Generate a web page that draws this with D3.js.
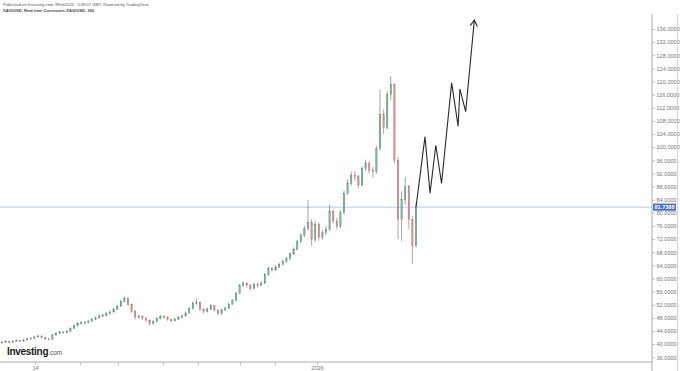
<!DOCTYPE html>
<html><head><meta charset="utf-8">
<script src="https://cdn.jsdelivr.net/npm/d3@7"></script>
<style>
html,body{margin:0;padding:0;background:#fff;}
svg{display:block;font-family:"Liberation Sans",Arial,sans-serif;}
</style></head>
<body>
<svg id="chart" width="680" height="371"></svg>
<script>
// ---- data ----
const firstOpen = 40.4;
const closes = [40.6,40.8,40.5,40.9,41.1,40.9,41.3,41.6,41.8,42.2,
42.5,42.0,41.6,41.5,42.8,43.3,43.7,43.5,43.9,44.8,
45.6,46.3,46.6,46.5,47.0,47.6,48.0,48.6,48.8,49.3,
49.8,50.6,51.6,53.0,54.0,52.0,50.0,48.3,48.4,47.9,
47.3,46.2,46.9,47.8,48.5,48.2,47.5,47.1,47.6,48.1,
48.6,49.5,50.8,52.5,52.8,50.6,49.9,50.7,51.7,50.4,
49.3,50.4,51.0,52.2,53.2,55.5,57.8,58.5,58.0,56.9,
58.2,58.0,58.6,61.2,63.0,62.6,63.5,64.3,65.2,66.0,
67.5,68.9,71.2,73.0,75.2,77.0,72.0,76.5,72.5,74.0,
75.0,80.5,77.5,75.8,80.0,86.0,89.0,91.5,91.0,88.5,
93.5,95.0,93.0,92.5,99.5,110.0,106.0,116.0,119.0,96.0,
78.0,84.0,88.0,78.0,70.0,81.7388];
const highs = [40.9,41.1,41.0,41.2,41.4,41.3,41.6,41.9,42.1,42.5,
42.9,42.7,42.2,41.9,43.1,43.6,44.1,44.0,44.3,45.1,
45.9,46.7,47.0,47.0,47.4,48.0,48.4,49.0,49.3,49.7,
50.3,51.0,52.0,53.5,54.5,54.2,52.4,50.4,49.0,48.8,
48.2,47.6,47.3,48.2,48.9,48.9,48.4,47.8,48.0,48.5,
49.0,49.9,51.2,53.0,54.0,53.0,51.0,51.2,52.2,51.9,
50.6,50.8,51.5,52.6,53.7,56.0,58.3,59.2,58.9,58.3,
58.7,58.6,59.1,61.7,63.6,63.5,64.0,64.8,65.8,66.6,
68.1,69.5,71.8,73.8,76.0,83.9,78.0,77.5,77.2,74.8,
76.0,82.5,81.0,78.5,80.8,86.8,90.2,92.6,92.8,91.6,
94.2,96.2,95.8,94.0,100.5,117.5,111.5,117.0,121.6,119.5,
97.0,86.5,91.0,88.5,79.0,83.0];
const lows = [40.2,40.4,40.2,40.3,40.7,40.6,40.8,41.1,41.4,41.6,
42.0,41.7,41.3,41.1,41.4,42.6,43.1,43.1,43.3,43.8,
44.6,45.4,46.0,46.0,46.3,46.8,47.3,47.8,48.2,48.5,
49.0,49.6,50.4,51.4,52.7,51.6,49.6,47.6,47.8,47.4,
46.9,45.7,45.9,46.6,47.5,47.7,47.1,46.6,46.9,47.3,
47.8,48.4,49.3,50.6,52.0,50.1,49.3,49.6,50.5,49.9,
48.8,49.0,50.1,50.8,52.0,53.0,55.3,57.4,57.2,56.4,
56.7,57.3,57.7,58.4,60.9,61.8,62.3,63.2,64.0,64.8,
65.6,67.2,68.6,70.8,72.6,74.6,70.0,71.2,71.5,71.8,
73.2,74.6,76.8,75.0,75.4,79.6,85.4,88.2,89.8,87.6,
88.0,92.8,92.0,90.6,92.0,99.0,104.0,105.5,114.5,95.0,
72.0,71.5,82.5,75.0,64.5,69.5];
// hand-drawn projection (bar index, price)
const projIdx   = [115, 117.5, 118.9, 120.5, 122.1, 124.9, 126.7, 127.2, 128.8, 131.2];
const projPrice = [81.7388, 103.2, 86.0, 100.6, 89.0, 119.6, 106.4, 117.7, 110.8, 138.7];
const lastPrice = 81.7388;
const yTicks = [36,40,44,48,52,56,60,64,68,72,76,80,84,88,92,96,100,104,108,112,116,120,124,128,132,136];
const xTickIdx = [9.2, 21.7, 32.2, 44.7, 54.4, 66.1, 75.8, 87.5];
const xTickLabels = ["14","","","","","","","2026"];
const headerLine1 = "Published on Investing.com, 9Feb2026 - 5:49:07 GMT, Powered by TradingView.";
const headerLine2 = "XAG/USD, Real-time Currencies:XAG/USD, 300";

// ---- build candles ----
const candles = closes.map((c,i)=>({i, o: i===0 ? firstOpen : closes[i-1], h: highs[i], l: lows[i], c}));

const svg = d3.select("#chart");
const W = 680, H = 371;
const plotRight = 652, plotBottom = 362;

const x = d3.scaleLinear().domain([0,115]).range([2,416]);
const y = d3.scaleLinear().domain([36,136]).range([357.3,29]);

svg.append("rect").attr("width",W).attr("height",H).attr("fill","#fff");

// header
svg.append("text").attr("x",3).attr("y",5.5).attr("font-size",4.1).attr("fill","#555").text(headerLine1);
svg.append("text").attr("x",3).attr("y",11.5).attr("font-size",4.1).attr("font-weight","bold").attr("fill","#444").text(headerLine2);

// price line
svg.append("line").attr("x1",0).attr("x2",plotRight).attr("y1",y(lastPrice)).attr("y2",y(lastPrice))
  .attr("stroke","#a9b9e6").attr("stroke-width",0.8);

// candles
const up = "#74c2a2", upS = "#4d6e62", dn = "#e49090", dnS = "#a06262";
const g = svg.append("g");
g.selectAll("line.wick").data(candles).join("line").attr("class","wick")
  .attr("x1",d=>x(d.i)).attr("x2",d=>x(d.i)).attr("y1",d=>y(d.h)).attr("y2",d=>y(d.l))
  .attr("stroke",d=>d.c>=d.o?upS:dnS).attr("stroke-width",0.6);
g.selectAll("rect.body").data(candles).join("rect").attr("class","body")
  .attr("x",d=>x(d.i)-0.7).attr("width",1.4)
  .attr("y",d=>y(Math.max(d.o,d.c))).attr("height",d=>Math.max(0.8,Math.abs(y(d.o)-y(d.c))))
  .attr("fill",d=>d.c>=d.o?up:dn).attr("stroke",d=>d.c>=d.o?upS:dnS).attr("stroke-width",0.3);

// projection
const pts = projIdx.map((v,i)=>[x(v), y(projPrice[i])]);
svg.append("path").attr("d",d3.line()(pts)).attr("fill","none").attr("stroke","#2b2b2b")
  .attr("stroke-width",1.1).attr("stroke-linejoin","miter");
// arrow head
const tip = pts[pts.length-1], prev = pts[pts.length-2];
const ang = Math.atan2(tip[1]-prev[1], tip[0]-prev[0]);
const al = 7, aw = 0.55;
const ah = [[tip[0]-al*Math.cos(ang-aw), tip[1]-al*Math.sin(ang-aw)], tip, [tip[0]-al*Math.cos(ang+aw), tip[1]-al*Math.sin(ang+aw)]];
svg.append("path").attr("d",d3.line()(ah)).attr("fill","none").attr("stroke","#2b2b2b").attr("stroke-width",1.1);

// y axis (right)
const yAxis = svg.append("g").attr("transform",`translate(${plotRight},0)`)
  .call(d3.axisRight(y).tickValues(yTicks).tickSize(3).tickPadding(1.5).tickFormat(d=>d.toFixed(4)));
yAxis.select(".domain").remove();
yAxis.selectAll(".tick line").attr("stroke","#999").attr("stroke-width",0.6);
yAxis.selectAll(".tick text").attr("font-size",5.6).attr("fill","#777").attr("font-family","Liberation Sans, Arial, sans-serif");
svg.append("line").attr("x1",plotRight).attr("x2",plotRight).attr("y1",14).attr("y2",H).attr("stroke","#999").attr("stroke-width",0.8);
svg.append("line").attr("x1",677.5).attr("x2",677.5).attr("y1",14).attr("y2",H).attr("stroke","#ccc").attr("stroke-width",0.8);

// last price label
const ly = y(lastPrice);
svg.append("rect").attr("x",plotRight+1).attr("y",ly-3.6).attr("width",23).attr("height",7.2).attr("fill","#4a6fd6");
svg.append("text").attr("x",plotRight+12.5).attr("y",ly+2).attr("text-anchor","middle").attr("font-size",5.6)
  .attr("font-weight","bold").attr("fill","#fff").text(lastPrice.toFixed(4));

// x axis
const xAxis = svg.append("g").attr("transform",`translate(0,${plotBottom})`)
  .call(d3.axisBottom(x).tickValues(xTickIdx).tickSize(3).tickPadding(1).tickFormat((d,i)=>xTickLabels[i]));
xAxis.select(".domain").remove();
xAxis.selectAll(".tick line").attr("stroke","#999").attr("stroke-width",0.6);
xAxis.selectAll(".tick text").attr("font-size",5.6).attr("fill","#777");
svg.append("line").attr("x1",0).attr("x2",plotRight).attr("y1",plotBottom).attr("y2",plotBottom).attr("stroke","#999").attr("stroke-width",0.8);

// logo
const logo = svg.append("text").attr("x",7).attr("y",354.5);
logo.append("tspan").attr("font-size",10).attr("font-weight","bold").attr("fill","#1a1a1a").attr("letter-spacing",-0.3).text("Investing");
logo.append("tspan").attr("font-size",6.5).attr("fill","#555").text(".com");
</script>
</body></html>
